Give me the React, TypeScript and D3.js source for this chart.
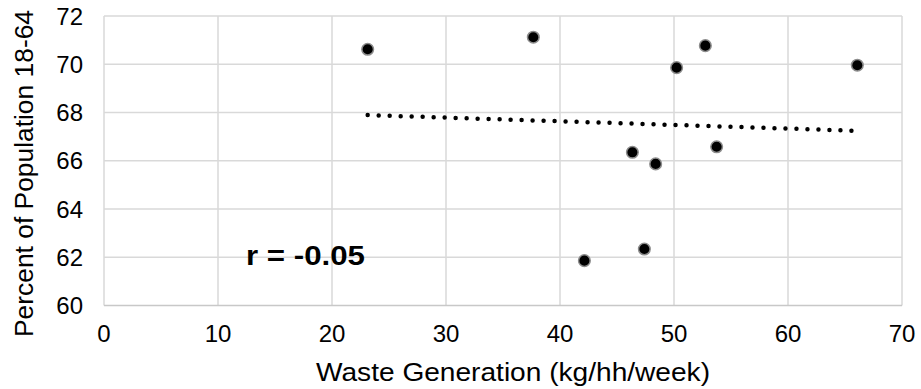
import React from "react";
import * as d3 from "d3";

const wasteGeneration = [23.13, 37.66, 52.75, 50.23, 66.08, 46.35, 48.39, 53.74, 42.14, 47.4];
const pop1864 = [70.62, 71.12, 70.77, 69.86, 69.96, 66.35, 65.87, 66.58, 61.86, 62.34];
const xTicks = [0, 10, 20, 30, 40, 50, 60, 70];
const yTicks = [60, 62, 64, 66, 68, 70, 72];
const xTitle = "Waste Generation (kg/hh/week)";
const yTitle = "Percent of Population 18-64";
const rLabel = "r = -0.05";

const W = 921;
const H = 389;
const FONT = "'Liberation Sans', Arial, sans-serif";

export default function App() {
  const x = d3.scaleLinear().domain([0, 70]).range([104, 902]);
  const y = d3.scaleLinear().domain([60, 72]).range([305.5, 16]);

  const n = wasteGeneration.length;
  const mx = d3.mean(wasteGeneration) as number;
  const my = d3.mean(pop1864) as number;
  let sxy = 0;
  let sxx = 0;
  for (let i = 0; i < n; i++) {
    sxy += (wasteGeneration[i] - mx) * (pop1864[i] - my);
    sxx += (wasteGeneration[i] - mx) ** 2;
  }
  const slope = sxy / sxx;
  const icpt = my - slope * mx;
  const x0 = d3.min(wasteGeneration) as number;
  const x1 = d3.max(wasteGeneration) as number;
  const trend = d3.line<number>().x((d) => x(d)).y((d) => y(icpt + slope * d))([x0, x1]) as string;

  return (
    <svg width={W} height={H} style={{ position: "absolute", left: 0, top: 0, display: "block" }}>
      <rect width={W} height={H} fill="#fff" />
      {xTicks.map((t) => (
        <line key={"gx" + t} x1={x(t)} x2={x(t)} y1={y(72)} y2={y(60)} stroke="#d9d9d9" strokeWidth={1.5} />
      ))}
      {yTicks.map((t) => (
        <line key={"gy" + t} x1={x(0)} x2={x(70)} y1={y(t)} y2={y(t)} stroke={t === 60 ? "#c8c8c8" : "#d9d9d9"} strokeWidth={1.5} />
      ))}
      {xTicks.map((t) => (
        <text key={"tx" + t} x={x(t)} y={342} textAnchor="middle" fontFamily={FONT} fontSize={24} fill="#000">
          {t}
        </text>
      ))}
      {yTicks.map((t) => (
        <text key={"ty" + t} x={83} y={y(t) + 8.5} textAnchor="end" fontFamily={FONT} fontSize={24} fill="#000">
          {t}
        </text>
      ))}
      <path d={trend} fill="none" stroke="#000" strokeWidth={4.5} strokeLinecap="round" strokeDasharray="0 11" />
      {wasteGeneration.map((v, i) => (
        <circle key={"p" + i} cx={x(v)} cy={y(pop1864[i])} r={5.8} fill="#000" stroke="#8c8c8c" strokeWidth={1.5} />
      ))}
      <text x={246} y={265} fontFamily={FONT} fontSize={28} fontWeight="bold" textLength={119} lengthAdjust="spacingAndGlyphs" fill="#000">
        {rLabel}
      </text>
      <text x={513} y={381} textAnchor="middle" fontFamily={FONT} fontSize={25} textLength={394} lengthAdjust="spacingAndGlyphs" fill="#000">
        {xTitle}
      </text>
      <text
        transform={`translate(33,173.5) rotate(-90)`}
        textAnchor="middle"
        fontFamily={FONT}
        fontSize={25}
        textLength={327}
        lengthAdjust="spacingAndGlyphs"
        fill="#000"
      >
        {yTitle}
      </text>
    </svg>
  );
}
